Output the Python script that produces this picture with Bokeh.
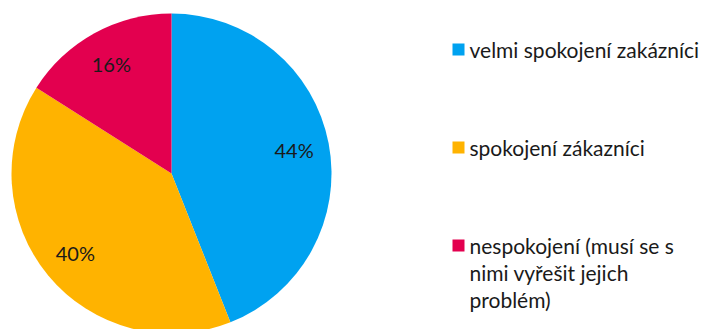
import numpy as np
from bokeh.plotting import figure
from bokeh.models import Range1d, ColumnDataSource
from bokeh.core.properties import value
from bokeh.embed import file_html
from bokeh.resources import INLINE

categories = ["velmi spokojení zakázníci", "spokojení zákazníci",
              "nespokojení (musí se s\nnimi vyřešit jejich\nproblém)"]
shares = [44, 40, 16]
colors = ["#00A2F0", "#FFB300", "#E3004F"]

W, H = 704, 329
p = figure(width=W, height=H, output_backend="svg", toolbar_location=None,
           x_range=Range1d(0, W), y_range=Range1d(0, H), min_border=0)
p.axis.visible = False
p.grid.visible = False
p.outline_line_color = None
p.background_fill_color = "white"

cx, cy, R = 171, 156, 160
frac = np.array(shares, dtype=float) / sum(shares)
ends = np.pi / 2 - 2 * np.pi * np.cumsum(frac)
starts = np.concatenate([[np.pi / 2], ends[:-1]])
src = ColumnDataSource(dict(start=ends, end=starts, color=colors))
p.wedge(x=cx, y=cy, radius=R, start_angle="start", end_angle="end",
        color="color", line_color=None, source=src)

mid = (starts + ends) / 2
lr = 0.78 * R
p.text(x=cx + lr * np.cos(mid), y=cy + lr * np.sin(mid),
       text=[f"{s}%" for s in shares], text_align="center",
       text_baseline="middle", text_font=value("Lato"),
       text_font_size="20px", text_color="#1a1a1a")

# legend
lx, ly0, step, lh = 458, 280, 98, 27
for i, (cat, col) in enumerate(zip(categories, colors)):
    y = ly0 - i * step
    p.rect(x=lx, y=y, width=12, height=12, color=col, line_color=None)
    lines = cat.split("\n")
    p.text(x=[lx + 11] * len(lines), y=[y - k * lh for k in range(len(lines))],
           text=lines, text_align="left", text_baseline="middle",
           text_font=value("Lato"), text_font_size="21px", text_color="#1a1a1a")

open("out.html", "w").write(file_html(p, INLINE))
